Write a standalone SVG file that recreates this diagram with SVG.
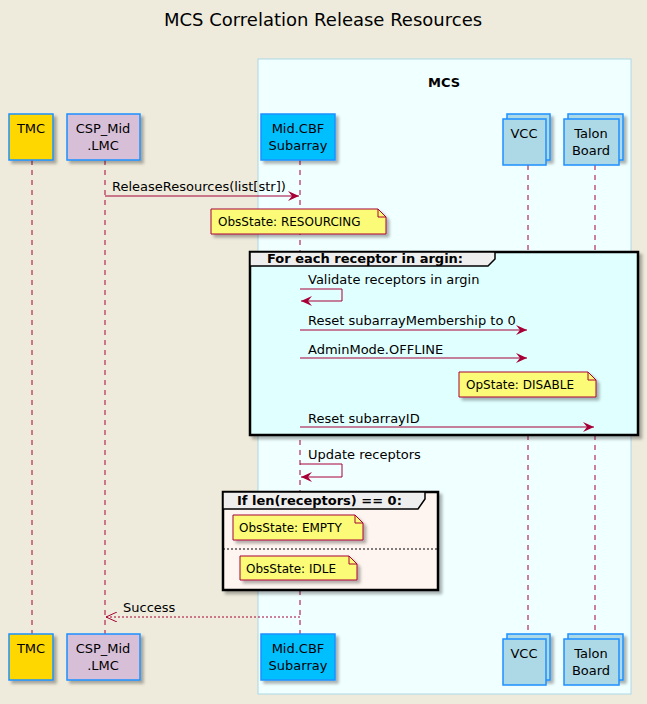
<svg xmlns="http://www.w3.org/2000/svg" width="647" height="704" viewBox="0 0 647 704">
<style>
text{font-family:"DejaVu Sans",sans-serif;font-size:13px;fill:#000}
.life{stroke:#A80036;stroke-width:1;stroke-dasharray:5,5}
.msg{stroke:#A80036;stroke-width:1;fill:none}
.part{stroke:#1E90FF;stroke-width:1.5}
.note{fill:#FBFB77;stroke:#A80036;stroke-width:1}
.grp{stroke:#000;stroke-width:2.5}
.hdr{fill:#EEEEEE;stroke:#000;stroke-width:1.5}
.b{font-weight:bold}
</style>
<defs>
<marker id="ah" markerWidth="12" markerHeight="10" refX="11" refY="5" orient="auto" markerUnits="userSpaceOnUse"><path d="M0,0 L11,5 L0,10 L4,5 Z" fill="#A80036"/></marker>
<marker id="oa" markerWidth="12" markerHeight="10" refX="11" refY="5" orient="auto" markerUnits="userSpaceOnUse"><path d="M0,0 L11,5 L0,10" fill="none" stroke="#A80036"/></marker>
<filter id="sh" x="-10%" y="-10%" width="130%" height="130%"><feDropShadow dx="3" dy="3" stdDeviation="1.5" flood-color="#000" flood-opacity="0.3"/></filter>
</defs>
<rect width="647" height="704" fill="#EEEBDC"/>
<text x="323" y="26" text-anchor="middle" style="font-size:18px">MCS Correlation Release Resources</text>
<g id="mcs-box">
<rect x="258" y="59" width="373" height="635" fill="#F0FFFF" stroke="#ADD8E6"/>
<text x="444" y="87" text-anchor="middle" class="b">MCS</text>
</g>
<g id="lifelines">
<line class="life" x1="32" y1="160" x2="32" y2="634"/>
<line class="life" x1="105" y1="160" x2="105" y2="634"/>
<line class="life" x1="300" y1="160" x2="300" y2="634"/>
<line class="life" x1="528" y1="165" x2="528" y2="634"/>
<line class="life" x1="595" y1="165" x2="595" y2="634"/>
</g>
<g id="loop">
<rect x="250" y="252" width="388" height="183" fill="#E0FFFF" class="grp" filter="url(#sh)"/>
<path d="M250,252 H495 V259 L488,266 H250 Z" class="hdr"/>
<text x="267" y="263" class="b">For each receptor in argin:</text>
</g>
<g id="alt">
<rect x="223" y="492" width="215" height="98" fill="#FFF5F0" class="grp" filter="url(#sh)"/>
<path d="M223,492 H425 V499 L418,509 H223 Z" class="hdr"/>
<text x="237" y="505" class="b">If len(receptors) == 0:</text>
<line x1="223" y1="549" x2="438" y2="549" stroke="#000" stroke-dasharray="2,2"/>
</g>
<g id="TMC">
<rect x="9" y="114" width="44" height="46" fill="#FFD700" class="part" filter="url(#sh)"/>
<text x="31" y="133" text-anchor="middle">TMC</text>
<rect x="9" y="634" width="44" height="46" fill="#FFD700" class="part" filter="url(#sh)"/>
<text x="31" y="653" text-anchor="middle">TMC</text>
</g>
<g id="CSP_Mid">
<rect x="67" y="114" width="73" height="46" fill="#D8BFD8" class="part" filter="url(#sh)"/>
<text x="103" y="133" text-anchor="middle">CSP_Mid</text><text x="103" y="150" text-anchor="middle">.LMC</text>
<rect x="67" y="634" width="73" height="46" fill="#D8BFD8" class="part" filter="url(#sh)"/>
<text x="103" y="653" text-anchor="middle">CSP_Mid</text><text x="103" y="670" text-anchor="middle">.LMC</text>
</g>
<g id="MidCBF">
<rect x="261" y="114" width="74" height="46" fill="#00BFFF" class="part" filter="url(#sh)"/>
<text x="298" y="133" text-anchor="middle">Mid.CBF</text><text x="298" y="150" text-anchor="middle">Subarray</text>
<rect x="261" y="634" width="74" height="46" fill="#00BFFF" class="part" filter="url(#sh)"/>
<text x="298" y="653" text-anchor="middle">Mid.CBF</text><text x="298" y="670" text-anchor="middle">Subarray</text>
</g>
<g id="VCC">
<rect x="507" y="114" width="43" height="46" fill="#ADD8E6" class="part" filter="url(#sh)"/>
<rect x="503" y="119" width="43" height="46" fill="#ADD8E6" class="part"/>
<text x="524" y="138" text-anchor="middle">VCC</text>
<rect x="507" y="634" width="43" height="46" fill="#ADD8E6" class="part" filter="url(#sh)"/>
<rect x="503" y="639" width="43" height="46" fill="#ADD8E6" class="part"/>
<text x="524" y="658" text-anchor="middle">VCC</text>
</g>
<g id="Talon">
<rect x="568" y="114" width="55" height="46" fill="#ADD8E6" class="part" filter="url(#sh)"/>
<rect x="564" y="119" width="55" height="46" fill="#ADD8E6" class="part"/>
<text x="591" y="138" text-anchor="middle">Talon</text><text x="591" y="155" text-anchor="middle">Board</text>
<rect x="568" y="634" width="55" height="46" fill="#ADD8E6" class="part" filter="url(#sh)"/>
<rect x="564" y="639" width="55" height="46" fill="#ADD8E6" class="part"/>
<text x="591" y="658" text-anchor="middle">Talon</text><text x="591" y="675" text-anchor="middle">Board</text>
</g>
<g id="notes" style="font-size:12px">
<g filter="url(#sh)">
<path d="M211,209 H378 L386,217 V234 H211 Z" class="note"/>
<path d="M459,372 H588 L596,380 V397 H459 Z" class="note"/>
<path d="M233,515 H355 L363,523 V540 H233 Z" class="note"/>
<path d="M240,556 H349 L357,564 V580 H240 Z" class="note"/>
</g>
<path d="M378,209 V217 H386 M588,372 V380 H596 M355,515 V523 H363 M349,556 V564 H357" fill="none" stroke="#A80036"/>
<text x="218" y="226" style="font-size:12px">ObsState: RESOURCING</text>
<text x="466" y="389" style="font-size:12px">OpState: DISABLE</text>
<text x="239" y="532" style="font-size:12px">ObsState: EMPTY</text>
<text x="246" y="573" style="font-size:12px">ObsState: IDLE</text>
</g>
<g id="connectors">
<line class="msg" x1="105" y1="196" x2="299" y2="196" marker-end="url(#ah)"/>
<text x="112" y="191">ReleaseResources(list[str])</text>
<path class="msg" d="M300,289 H342 V301 H301" marker-end="url(#ah)"/>
<text x="308" y="284">Validate receptors in argin</text>
<line class="msg" x1="300" y1="330" x2="527" y2="330" marker-end="url(#ah)"/>
<text x="308" y="325">Reset subarrayMembership to 0</text>
<line class="msg" x1="300" y1="358" x2="527" y2="358" marker-end="url(#ah)"/>
<text x="308" y="354">AdminMode.OFFLINE</text>
<line class="msg" x1="300" y1="427" x2="594" y2="427" marker-end="url(#ah)"/>
<text x="308" y="423">Reset subarrayID</text>
<path class="msg" d="M300,464 H342 V477 H301" marker-end="url(#ah)"/>
<text x="308" y="459">Update receptors</text>
<line class="msg" x1="300" y1="617" x2="106" y2="617" stroke-dasharray="2,2" marker-end="url(#oa)"/>
<text x="123" y="612">Success</text>
</g>
</svg>
